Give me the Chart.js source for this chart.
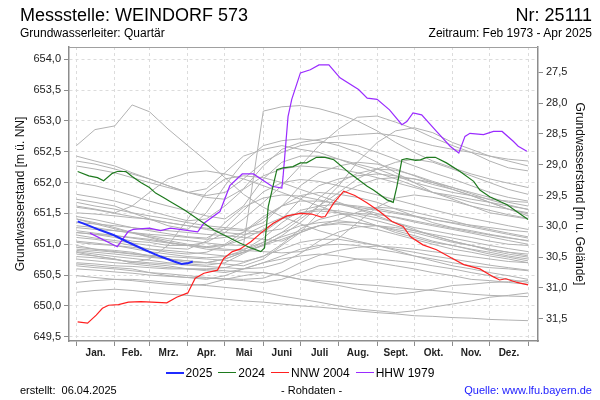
<!DOCTYPE html>
<html>
<head>
<meta charset="utf-8">
<script src="https://cdn.jsdelivr.net/npm/chart.js@4/dist/chart.umd.min.js"></script>
<style>
  body { margin: 0; background: #fff; font-family: "Liberation Sans", Arial, sans-serif; }
  #wrap { position: relative; width: 600px; height: 400px; overflow: hidden; }
  #chart { position: absolute; left: 0; top: 0; }
  .txt { position: absolute; white-space: nowrap; color: #000; }
  #legend { position: absolute; left: 0; width: 600px; top: 366px; text-align: center; font-size: 12px; line-height: 14px; }
  #legend span.item { display: inline-block; margin: 0 3px; }
  #legend span.sw { display: inline-block; width: 18px; vertical-align: middle; margin-right: 2px; position: relative; top: -1px; }
</style>
</head>
<body>
<div id="wrap">
  <canvas id="chart" width="600" height="400"></canvas>
  <div class="txt" style="left:20px; top:5px; font-size:18px; line-height:20px;">Messstelle: WEINDORF 573</div>
  <div class="txt" style="right:8px; top:5px; font-size:18px; line-height:20px;">Nr: 25111</div>
  <div class="txt" style="left:20px; top:26px; font-size:12px; line-height:14px;">Grundwasserleiter: Quartär</div>
  <div class="txt" style="right:8px; top:26px; font-size:12px; line-height:14px;">Zeitraum: Feb 1973 - Apr 2025</div>
  <div id="legend"></div>
  <div class="txt" style="left:20px; top:384px; font-size:11px; line-height:13px;">erstellt:&nbsp; 06.04.2025</div>
  <div class="txt" style="left:281px; top:384px; font-size:11px; line-height:13px;">- Rohdaten -</div>
  <div class="txt" style="right:8px; top:384px; font-size:11px; line-height:13px; color:#1a1aff;">Quelle: www.lfu.bayern.de</div>
</div>
<script>
// month grid (day of year)
var monthStarts = [0, 31, 59, 90, 120, 151, 181, 212, 243, 273, 304, 334, 365];
var monthMids = [15.5, 45, 74.5, 105, 135.5, 166, 196.5, 227.5, 258, 288.5, 319, 349.5];
var monthLabels = ['Jan.', 'Feb.', 'Mrz.', 'Apr.', 'Mai', 'Juni', 'Juli', 'Aug.', 'Sept.', 'Okt.', 'Nov.', 'Dez.'];

// axis ticks
var levelTicks = [649.5, 650.0, 650.5, 651.0, 651.5, 652.0, 652.5, 653.0, 653.5, 654.0];
var depthTicks = [27.5, 28.0, 28.5, 29.0, 29.5, 30.0, 30.5, 31.0, 31.5];
var groundLevel = 681.29;

// highlighted years
var days2025 = [1, 9, 19, 30, 41, 55, 68, 79, 85, 90, 94];
var level2025 = [651.37, 651.31, 651.23, 651.15, 651.04, 650.91, 650.80, 650.72, 650.68, 650.69, 650.72];

var days2024 = [1, 10, 17, 22, 29, 33, 40, 45, 52, 59, 64, 71, 76, 87, 95, 103, 111, 122, 132, 141, 149, 152, 155, 158, 162, 167, 175, 181, 186, 194, 201, 208, 221, 235, 240, 251, 256, 259, 263, 267, 274, 278, 283, 290, 299, 310, 321, 326, 334, 348, 358, 365];
var level2024 = [652.18, 652.11, 652.08, 652.03, 652.15, 652.18, 652.18, 652.10, 652.00, 651.92, 651.83, 651.75, 651.69, 651.56, 651.45, 651.34, 651.23, 651.12, 651.02, 650.94, 650.88, 650.94, 651.61, 651.87, 652.21, 652.24, 652.26, 652.32, 652.32, 652.41, 652.41, 652.37, 652.15, 651.94, 651.88, 651.72, 651.68, 651.94, 652.37, 652.39, 652.36, 652.37, 652.41, 652.41, 652.32, 652.18, 652.02, 651.88, 651.77, 651.64, 651.50, 651.40];

var daysNNW = [1, 9, 16, 21, 26, 34, 42, 52, 61, 73, 81, 90, 96, 103, 114, 119, 126, 132, 141, 149, 159, 170, 181, 190, 198, 201, 208, 216, 225, 235, 245, 255, 264, 270, 280, 291, 302, 313, 326, 337, 342, 347, 356, 365];
var levelNNW = [649.74, 649.72, 649.85, 649.96, 650.01, 650.02, 650.06, 650.07, 650.06, 650.05, 650.14, 650.21, 650.45, 650.53, 650.58, 650.77, 650.88, 650.92, 651.04, 651.18, 651.34, 651.46, 651.50, 651.49, 651.44, 651.45, 651.67, 651.86, 651.79, 651.67, 651.53, 651.37, 651.29, 651.12, 650.99, 650.91, 650.79, 650.67, 650.60, 650.47, 650.42, 650.44, 650.38, 650.34];

var daysHHW = [11, 33, 42, 46, 59, 68, 76, 98, 103, 116, 124, 134, 143, 158, 166, 167, 171, 174, 181, 189, 196, 204, 213, 228, 235, 243, 253, 263, 267, 272, 279, 291, 302, 309, 314, 318, 329, 337, 344, 353, 357, 364];
var levelHHW = [651.18, 650.96, 651.21, 651.24, 651.26, 651.22, 651.26, 651.20, 651.34, 651.53, 651.95, 652.14, 652.14, 651.94, 651.91, 652.10, 653.07, 653.35, 653.78, 653.83, 653.91, 653.91, 653.70, 653.51, 653.37, 653.35, 653.18, 652.94, 652.99, 653.13, 653.10, 652.83, 652.59, 652.48, 652.75, 652.80, 652.78, 652.83, 652.83, 652.67, 652.59, 652.51];

var highlightNames = ['2025', '2024', 'NNW 2004', 'HHW 1979'];
var highlightColors = ['#1f2bff', '#1e7a1e', '#ff2020', '#9a2bff'];
var highlightWidths = [2, 1.2, 1.2, 1.2];

// other years (semi-monthly readings)
var histDays = [0, 15, 31, 45, 59, 74, 90, 105, 120, 135, 151, 166, 181, 196, 212, 227, 243, 258, 273, 288, 304, 319, 334, 349, 365];
var g01 = [652.60, 652.86, 652.92, 653.26, 653.15, 652.87, 652.60, 652.35, 652.08, 651.81, 651.60, 651.45, 651.33, 651.22, 651.13, 651.05, 650.98, 650.92, 650.87, 650.81, 650.76, 650.71, 650.66, 650.62, 650.58];
var g02 = [651.41, 651.33, 651.25, 651.19, 651.14, 651.09, 651.06, 651.02, 650.99, 650.98, 653.16, 653.23, 653.25, 653.20, 653.11, 653.00, 652.84, 652.65, 652.49, 652.35, 652.24, 652.14, 652.06, 651.99, 651.92];
var g03 = [652.43, 652.35, 652.27, 652.16, 652.06, 651.95, 651.84, 651.76, 651.73, 651.90, 652.27, 652.54, 652.65, 652.70, 652.76, 652.78, 652.80, 652.76, 652.68, 652.60, 652.54, 652.49, 652.43, 652.38, 652.35];
var g04 = [651.19, 651.16, 651.11, 651.05, 651.03, 650.98, 650.98, 651.03, 651.19, 651.41, 651.68, 651.95, 652.27, 652.60, 652.87, 653.06, 653.08, 652.98, 652.87, 652.73, 652.60, 652.49, 652.35, 652.24, 652.19];
var g05 = [650.92, 650.90, 650.87, 650.84, 650.81, 650.76, 650.70, 650.70, 650.76, 650.87, 650.98, 651.14, 651.35, 651.62, 651.95, 652.33, 652.65, 652.84, 652.89, 652.81, 652.65, 652.54, 652.43, 652.35, 652.27];
var g06 = [651.73, 651.68, 651.62, 651.51, 651.41, 651.30, 651.24, 651.51, 651.95, 652.33, 652.60, 652.68, 652.71, 652.68, 652.60, 652.49, 652.33, 652.16, 652.00, 651.84, 651.73, 651.62, 651.51, 651.46, 651.41];
var g07 = [652.35, 652.30, 652.22, 652.14, 652.06, 651.95, 651.84, 651.90, 652.16, 652.43, 652.54, 652.60, 652.54, 652.49, 652.38, 652.27, 652.16, 652.06, 651.95, 651.84, 651.76, 651.68, 651.62, 651.57, 651.51];
var g08 = [652.00, 651.95, 651.87, 651.79, 651.70, 651.62, 651.54, 651.46, 651.41, 651.62, 652.06, 652.33, 652.43, 652.43, 652.38, 652.30, 652.22, 652.11, 652.00, 651.92, 651.84, 651.79, 651.73, 651.70, 651.68];
var g09 = [651.81, 651.76, 651.70, 651.62, 651.54, 651.46, 651.38, 651.41, 651.62, 651.89, 652.11, 652.22, 652.27, 652.25, 652.22, 652.16, 652.08, 652.00, 651.92, 651.84, 651.79, 651.73, 651.68, 651.62, 651.57];
var g10 = [651.68, 651.62, 651.57, 651.51, 651.46, 651.41, 651.35, 651.30, 651.27, 651.24, 651.35, 651.62, 651.95, 652.16, 652.27, 652.33, 652.30, 652.22, 652.11, 652.00, 651.89, 651.79, 651.68, 651.57, 651.46];
var g11 = [651.51, 651.49, 651.46, 651.43, 651.41, 651.35, 651.30, 651.24, 651.19, 651.16, 651.19, 651.41, 651.73, 651.95, 652.06, 652.11, 652.14, 652.11, 652.06, 651.97, 651.89, 651.79, 651.68, 651.57, 651.49];
var g12 = [651.35, 651.33, 651.30, 651.27, 651.24, 651.22, 651.19, 651.16, 651.14, 651.11, 651.08, 651.05, 651.19, 651.51, 651.79, 651.95, 652.06, 652.08, 652.06, 652.00, 651.92, 651.84, 651.76, 651.68, 651.62];
var g13 = [651.27, 651.24, 651.22, 651.19, 651.16, 651.14, 651.11, 651.08, 651.11, 651.19, 651.41, 651.62, 651.79, 651.84, 651.81, 651.76, 651.68, 651.57, 651.46, 651.35, 651.27, 651.22, 651.16, 651.11, 651.05];
var g14 = [651.19, 651.16, 651.14, 651.11, 651.08, 651.03, 650.98, 650.95, 650.98, 651.08, 651.24, 651.41, 651.51, 651.57, 651.54, 651.49, 651.43, 651.35, 651.27, 651.22, 651.16, 651.11, 651.05, 651.00, 650.98];
var g15 = [651.11, 651.08, 651.03, 650.98, 650.92, 650.87, 650.84, 650.87, 650.98, 651.14, 651.30, 651.43, 651.51, 651.54, 651.51, 651.46, 651.38, 651.30, 651.22, 651.14, 651.05, 650.98, 650.92, 650.87, 650.81];
var g16 = [651.03, 651.00, 650.98, 650.95, 650.92, 650.90, 650.87, 650.84, 650.81, 650.87, 650.98, 651.08, 651.19, 651.30, 651.35, 651.35, 651.30, 651.22, 651.14, 651.05, 650.98, 650.91, 650.84, 650.79, 650.73];
var g17 = [650.98, 650.92, 650.90, 650.87, 650.81, 650.76, 650.73, 650.70, 650.76, 650.87, 651.03, 651.19, 651.30, 651.35, 651.38, 651.35, 651.30, 651.24, 651.19, 651.11, 651.03, 650.98, 650.92, 650.87, 650.84];
var g18 = [650.90, 650.87, 650.84, 650.81, 650.79, 650.76, 650.73, 650.70, 650.68, 650.65, 650.76, 650.98, 651.19, 651.30, 651.33, 651.30, 651.24, 651.16, 651.08, 651.00, 650.92, 650.87, 650.81, 650.76, 650.70];
var g19 = [650.84, 650.81, 650.76, 650.70, 650.68, 650.65, 650.60, 650.57, 650.54, 650.60, 650.70, 650.81, 650.92, 650.98, 651.00, 650.98, 650.92, 650.87, 650.81, 650.76, 650.70, 650.65, 650.62, 650.60, 650.57];
var g20 = [650.76, 650.73, 650.70, 650.68, 650.65, 650.62, 650.60, 650.60, 650.62, 650.70, 650.81, 650.92, 651.03, 651.08, 651.08, 651.03, 650.98, 650.90, 650.81, 650.73, 650.65, 650.60, 650.54, 650.49, 650.43];
var g21 = [650.68, 650.65, 650.62, 650.60, 650.54, 650.49, 650.46, 650.43, 650.49, 650.60, 650.70, 650.76, 650.81, 650.84, 650.81, 650.76, 650.70, 650.65, 650.60, 650.54, 650.49, 650.43, 650.41, 650.38, 650.35];
var g22 = [650.22, 650.25, 650.27, 650.25, 650.22, 650.19, 650.17, 650.14, 650.11, 650.08, 650.06, 650.03, 650.00, 649.98, 649.95, 649.92, 649.89, 649.87, 649.84, 649.83, 649.81, 649.80, 649.78, 649.77, 649.76];
var g23 = [650.38, 650.41, 650.43, 650.43, 650.41, 650.38, 650.35, 650.33, 650.30, 650.27, 650.22, 650.16, 650.11, 650.06, 650.00, 649.95, 649.92, 649.89, 649.92, 649.98, 650.03, 650.08, 650.14, 650.17, 650.21];
var g24 = [650.49, 650.46, 650.43, 650.41, 650.38, 650.35, 650.33, 650.35, 650.43, 650.49, 650.54, 650.49, 650.43, 650.38, 650.33, 650.27, 650.22, 650.19, 650.22, 650.27, 650.33, 650.35, 650.38, 650.39, 650.41];
var g25 = [650.87, 650.81, 650.76, 650.70, 650.76, 650.98, 651.41, 651.84, 652.06, 652.11, 652.08, 652.00, 651.89, 651.79, 651.68, 651.57, 651.46, 651.35, 651.24, 651.14, 651.05, 650.98, 650.90, 650.84, 650.79];
var g26 = [651.62, 651.57, 651.51, 651.62, 651.84, 652.06, 652.16, 652.19, 652.14, 652.06, 651.95, 651.84, 651.73, 651.62, 651.51, 651.41, 651.30, 651.19, 651.11, 651.03, 650.98, 650.92, 650.87, 650.81, 650.76];
var g27 = [650.65, 650.62, 650.60, 650.57, 650.54, 650.52, 650.49, 650.46, 650.43, 650.41, 650.38, 650.43, 650.54, 650.65, 650.70, 650.76, 650.76, 650.73, 650.70, 650.65, 650.60, 650.54, 650.49, 650.43, 650.38];
var g28 = [651.41, 651.35, 651.27, 651.19, 651.11, 651.03, 650.98, 650.92, 650.90, 650.92, 651.03, 651.19, 651.41, 651.62, 651.84, 652.06, 652.22, 652.33, 652.38, 652.33, 652.22, 652.11, 652.00, 651.89, 651.81];
var g29 = [652.27, 652.22, 652.16, 652.08, 652.00, 651.92, 651.84, 651.79, 651.84, 652.06, 652.33, 652.49, 652.60, 652.65, 652.65, 652.60, 652.49, 652.38, 652.27, 652.16, 652.06, 651.95, 651.84, 651.76, 651.70];
var g30 = [650.70, 650.68, 650.65, 650.64, 650.62, 650.60, 650.60, 650.59, 650.57, 650.55, 650.54, 650.49, 650.43, 650.41, 650.38, 650.35, 650.33, 650.30, 650.27, 650.25, 650.22, 650.19, 650.17, 650.16, 650.15];
var g31 = [651.30, 651.27, 651.22, 651.18, 651.12, 651.06, 651.00, 650.96, 651.00, 651.20, 651.45, 651.62, 651.70, 651.70, 651.66, 651.60, 651.55, 651.50, 651.45, 651.40, 651.35, 651.31, 651.27, 651.23, 651.20];
var g32 = [651.05, 651.02, 650.98, 650.93, 650.88, 650.84, 650.80, 650.78, 650.80, 650.90, 651.10, 651.35, 651.55, 651.62, 651.65, 651.62, 651.58, 651.52, 651.46, 651.40, 651.34, 651.28, 651.22, 651.16, 651.10];
var g33 = [650.88, 650.84, 650.80, 650.77, 650.74, 650.70, 650.68, 650.66, 650.70, 650.85, 651.00, 651.12, 651.22, 651.30, 651.40, 651.52, 651.60, 651.58, 651.52, 651.45, 651.38, 651.30, 651.24, 651.18, 651.12];
var g34 = [651.45, 651.40, 651.33, 651.27, 651.22, 651.17, 651.12, 651.10, 651.25, 651.55, 651.85, 652.00, 652.05, 652.02, 651.95, 651.88, 651.80, 651.72, 651.64, 651.56, 651.48, 651.42, 651.36, 651.30, 651.24];
var g35 = [650.80, 650.78, 650.75, 650.72, 650.70, 650.68, 650.66, 650.64, 650.62, 650.60, 650.62, 650.70, 650.85, 651.05, 651.20, 651.28, 651.30, 651.27, 651.22, 651.16, 651.10, 651.04, 650.98, 650.93, 650.88];
var g36 = [651.15, 651.10, 651.06, 651.02, 650.98, 650.94, 650.92, 651.05, 651.35, 651.60, 651.75, 651.80, 651.78, 651.72, 651.65, 651.58, 651.50, 651.43, 651.36, 651.30, 651.24, 651.18, 651.12, 651.06, 651.00];
var g37 = [650.60, 650.58, 650.55, 650.53, 650.50, 650.48, 650.46, 650.45, 650.44, 650.43, 650.45, 650.55, 650.70, 650.82, 650.90, 650.95, 650.97, 650.95, 650.92, 650.88, 650.84, 650.80, 650.76, 650.72, 650.70];
var g38 = [651.60, 651.56, 651.50, 651.45, 651.40, 651.35, 651.30, 651.26, 651.24, 651.22, 651.20, 651.25, 651.45, 651.75, 652.00, 652.15, 652.22, 652.20, 652.12, 652.02, 651.92, 651.82, 651.72, 651.64, 651.56];
var g39 = [650.95, 650.92, 650.88, 650.85, 650.82, 650.80, 650.78, 650.76, 650.74, 650.72, 650.80, 651.00, 651.25, 651.40, 651.48, 651.50, 651.48, 651.44, 651.38, 651.32, 651.26, 651.20, 651.15, 651.10, 651.06];
var g40 = [651.22, 651.18, 651.14, 651.10, 651.06, 651.02, 650.98, 650.95, 650.92, 650.90, 650.88, 650.86, 650.88, 650.95, 651.10, 651.35, 651.60, 651.75, 651.80, 651.76, 651.70, 651.62, 651.55, 651.48, 651.42];
var historyYears = [g01, g02, g03, g04, g05, g06, g07, g08, g09, g10, g11, g12, g13, g14, g15, g16, g17, g18, g19, g20,
                    g21, g22, g23, g24, g25, g26, g27, g28, g29, g30, g31, g32, g33, g34, g35, g36, g37, g38, g39, g40];

document.addEventListener('DOMContentLoaded', function() {
    var levelMin = 649.43, levelMax = 654.20;
    var gridCol = '#dcdcdc', axisCol = '#8c8c8c';

    function pts(xs, ys) {
        return ys.map(function(v, i) { return { x: xs[i], y: v }; });
    }
    function fmt(v) { return v.toFixed(1).replace('.', ','); }

    var hlDays = [days2025, days2024, daysNNW, daysHHW];
    var hlLevels = [level2025, level2024, levelNNW, levelHHW];

    var datasets = [];
    hlLevels.forEach(function(vals, i) {
        datasets.push({
            label: highlightNames[i],
            data: pts(hlDays[i], vals),
            borderColor: highlightColors[i],
            borderWidth: highlightWidths[i],
            pointRadius: 0,
            fill: false
        });
    });
    historyYears.forEach(function(vals) {
        datasets.push({
            label: '',
            data: pts(histDays, vals),
            borderColor: '#b2b2b2',
            borderWidth: 1,
            pointRadius: 0,
            fill: false
        });
    });

    // legend
    var leg = document.getElementById('legend');
    highlightNames.forEach(function(name, i) {
        var item = document.createElement('span');
        item.className = 'item';
        var sw = document.createElement('span');
        sw.className = 'sw';
        sw.style.borderTop = highlightWidths[i] + 'px solid ' + highlightColors[i];
        item.appendChild(sw);
        item.appendChild(document.createTextNode(name));
        leg.appendChild(item);
    });

    var frame = {
        id: 'frame',
        afterDraw: function(chart) {
            var a = chart.chartArea, ctx = chart.ctx;
            ctx.save();
            ctx.strokeStyle = '#a0a0a0';
            ctx.lineWidth = 1;
            ctx.beginPath();
            ctx.moveTo(a.left, a.top + 0.5);
            ctx.lineTo(a.right, a.top + 0.5);
            ctx.stroke();
            ctx.restore();
        }
    };

    var ctx = document.getElementById('chart').getContext('2d');
    new Chart(ctx, {
        type: 'line',
        data: { datasets: datasets },
        plugins: [frame],
        options: {
            responsive: false,
            animation: false,
            devicePixelRatio: 1,
            layout: { padding: { top: 47, bottom: 38, left: 0, right: 0 } },
            elements: { line: { tension: 0 } },
            plugins: { legend: { display: false }, tooltip: { enabled: false } },
            scales: {
                x: {
                    type: 'linear', position: 'bottom', min: -6, max: 373, weight: 0,
                    afterBuildTicks: function(axis) { axis.ticks = monthStarts.map(function(v) { return { value: v }; }); },
                    afterFit: function(axis) { axis.height = 5; },
                    ticks: { display: false },
                    grid: { color: gridCol, tickColor: axisCol, tickLength: 5, lineWidth: 1 },
                    border: { color: axisCol, width: 1.5, dash: [3, 3] }
                },
                xl: {
                    type: 'linear', position: 'bottom', min: -6, max: 373, weight: 1,
                    afterBuildTicks: function(axis) { axis.ticks = monthMids.map(function(v) { return { value: v }; }); },
                    afterFit: function(axis) { axis.height = 16; },
                    ticks: {
                        autoSkip: false, maxRotation: 0, padding: 1, color: '#222',
                        font: { family: 'Liberation Sans', size: 10, weight: 'bold' },
                        callback: function(v, i) { return monthLabels[i]; }
                    },
                    grid: { display: false, drawTicks: false },
                    border: { display: false }
                },
                y: {
                    type: 'linear', position: 'left', min: levelMin, max: levelMax,
                    afterBuildTicks: function(axis) { axis.ticks = levelTicks.map(function(v) { return { value: v }; }); },
                    afterFit: function(axis) { axis.width = 69; },
                    ticks: { padding: 3, color: '#222', font: { family: 'Liberation Sans', size: 11 }, callback: fmt },
                    grid: { color: gridCol, tickColor: axisCol, tickLength: 5 },
                    border: { color: axisCol, width: 1.5, dash: [3, 3] },
                    title: { display: true, text: 'Grundwasserstand [m ü. NN]', color: '#111', padding: { top: 13, bottom: 0 },
                             font: { family: 'Liberation Sans', size: 12 } }
                },
                y2: {
                    type: 'linear', position: 'right', reverse: true,
                    min: groundLevel - levelMax, max: groundLevel - levelMin,
                    afterBuildTicks: function(axis) { axis.ticks = depthTicks.map(function(v) { return { value: v }; }); },
                    afterFit: function(axis) { axis.width = 62; },
                    ticks: { padding: 3, color: '#222', font: { family: 'Liberation Sans', size: 11 }, callback: fmt },
                    grid: { drawOnChartArea: false, tickColor: axisCol, tickLength: 5 },
                    border: { color: axisCol, width: 1.5 },
                    title: { display: true, text: 'Grundwasserstand [m u. Gelände]', color: '#111', padding: { top: 13, bottom: 0 },
                             font: { family: 'Liberation Sans', size: 12 } }
                }
            }
        }
    });
});
</script>
</body>
</html>
